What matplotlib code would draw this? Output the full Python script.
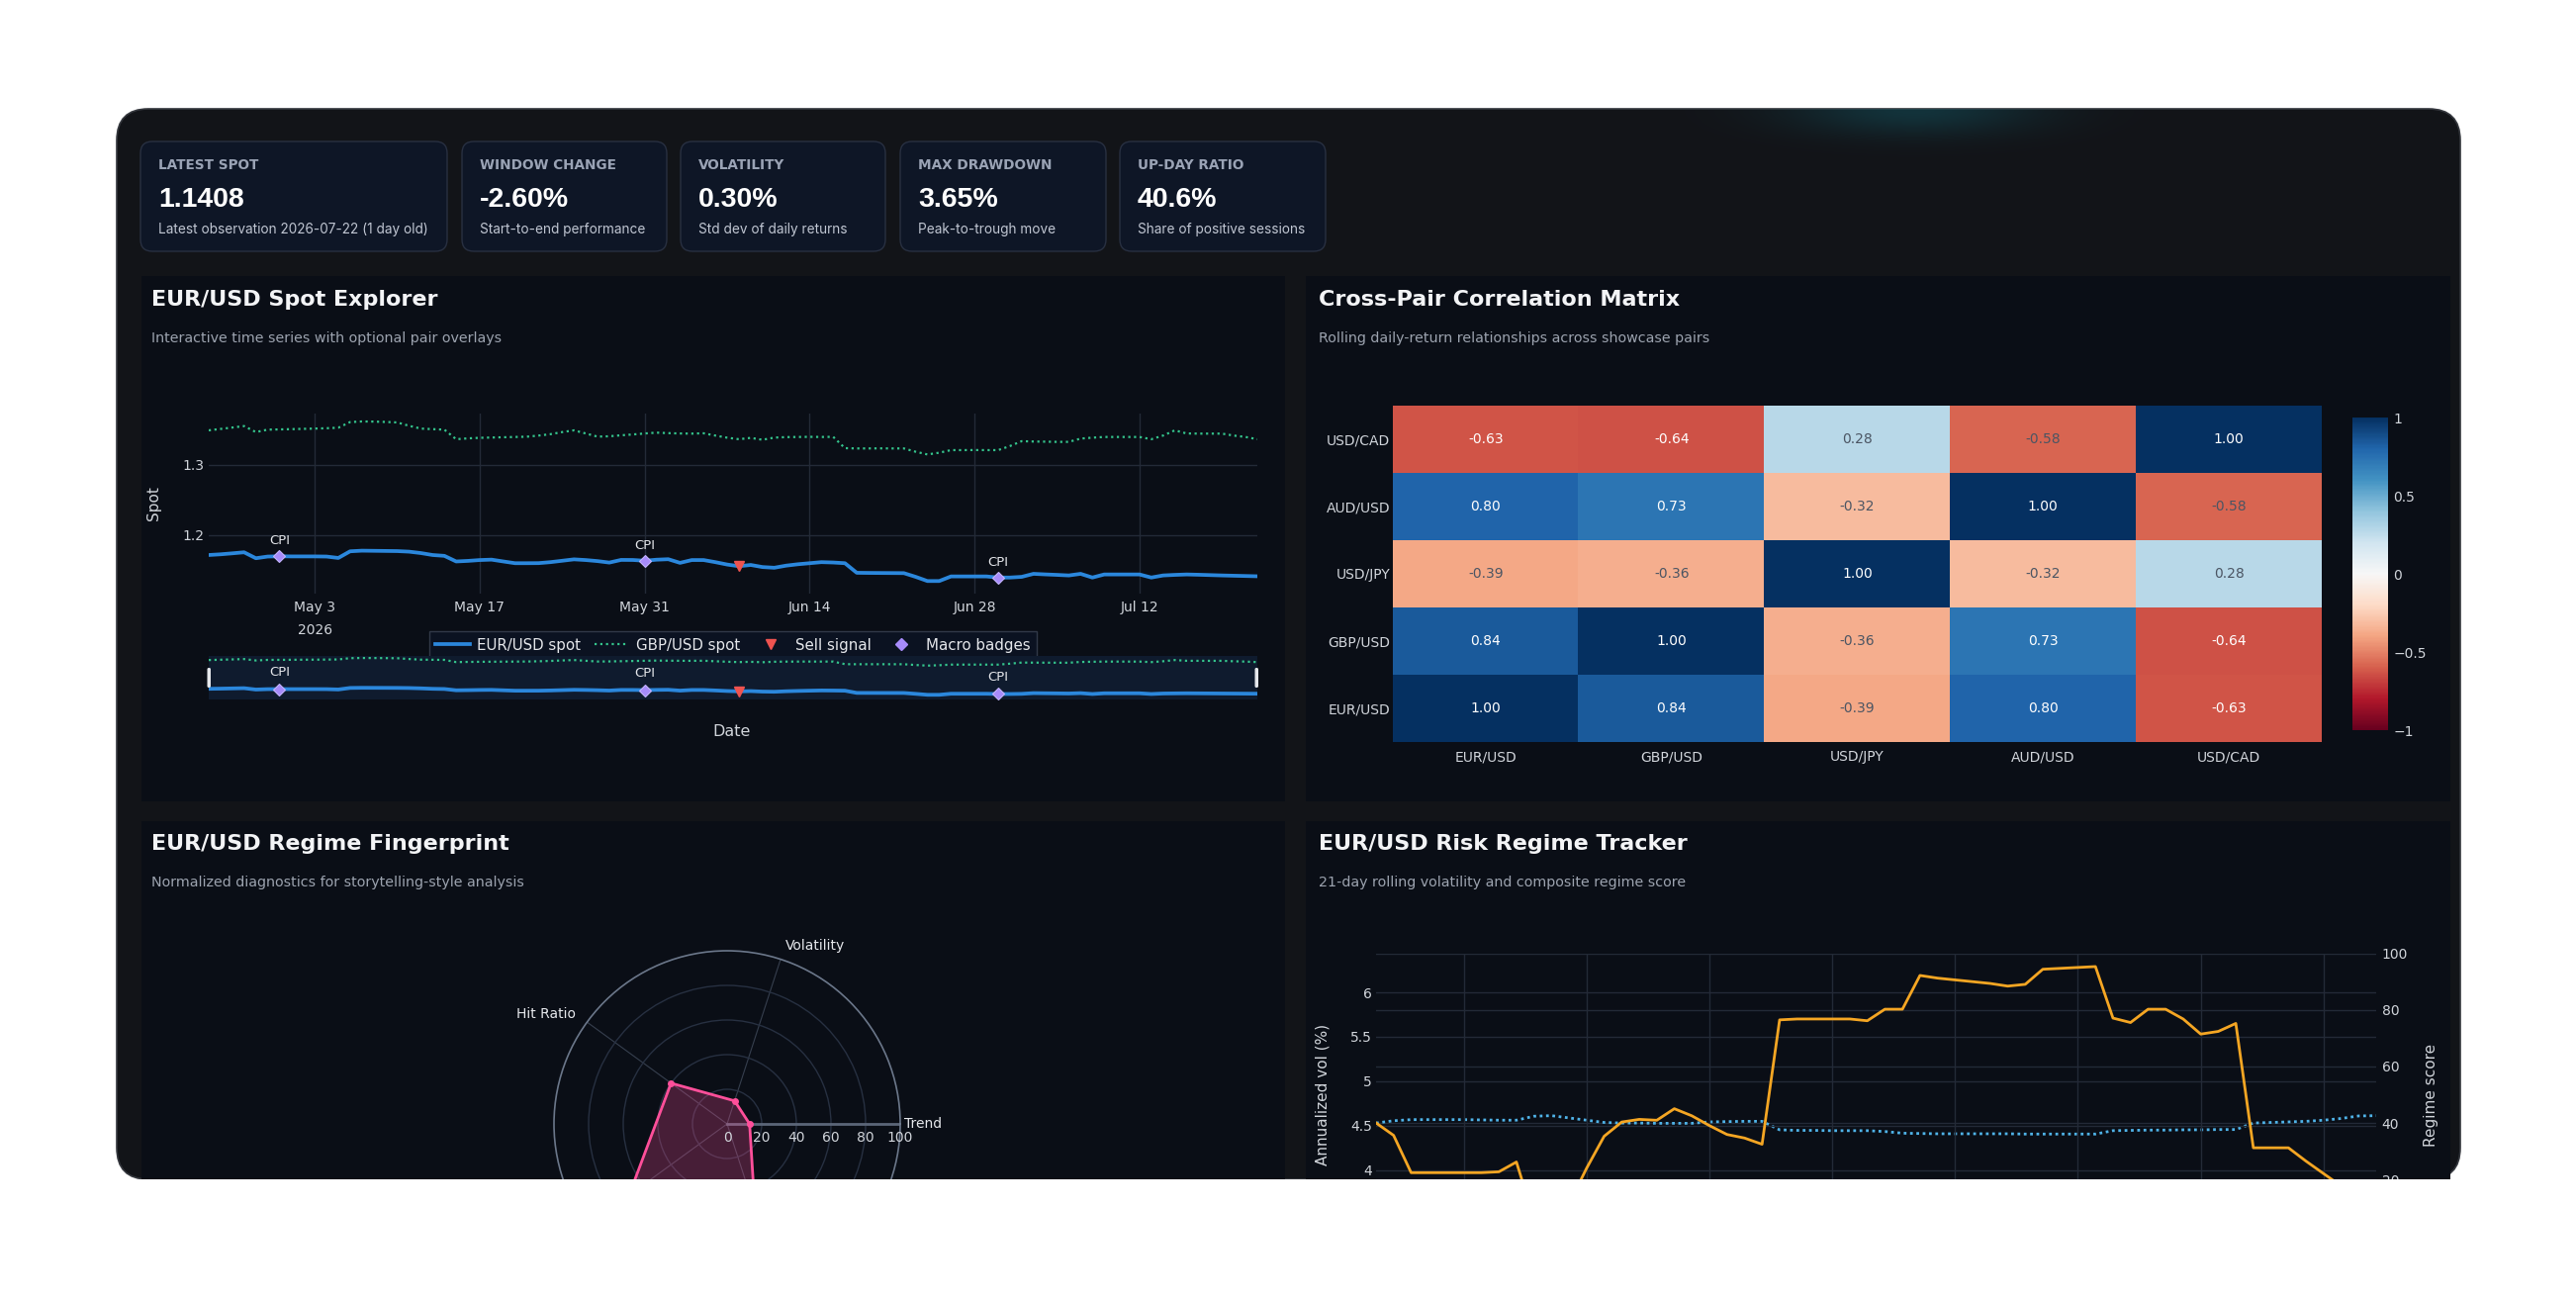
import numpy as np
import pandas as pd
import matplotlib
matplotlib.use("Agg")
import matplotlib.pyplot as plt
from matplotlib.patches import FancyBboxPatch, Rectangle
from matplotlib.lines import Line2D
from matplotlib.colors import Normalize
from matplotlib.transforms import blended_transform_factory

W, H = 2604, 1315

# ---------------- data ----------------
kpi_labels = ["LATEST SPOT", "WINDOW CHANGE", "VOLATILITY", "MAX DRAWDOWN", "UP-DAY RATIO"]
kpi_values = ["1.1408", "-2.60%", "0.30%", "3.65%", "40.6%"]
kpi_notes = ["Latest observation 2026-07-22 (1 day old)", "Start-to-end performance",
             "Std dev of daily returns", "Peak-to-trough move", "Share of positive sessions"]

spot_dates = pd.date_range("2026-04-24", "2026-07-22", freq="D")
eur_usd = [1.1712, 1.1722, 1.1736, 1.1751, 1.1666, 1.1690, 1.1694, 1.1692, 1.1692, 1.1692,
           1.1690, 1.1670, 1.1765, 1.1774, 1.1772, 1.1770, 1.1768, 1.1760, 1.1740, 1.1712,
           1.1700, 1.1620, 1.1628, 1.1640, 1.1646, 1.1620, 1.1595, 1.1595, 1.1596, 1.1610,
           1.1630, 1.1650, 1.1640, 1.1625, 1.1604, 1.1642, 1.1641, 1.1630, 1.1645, 1.1652,
           1.1600, 1.1640, 1.1640, 1.1610, 1.1576, 1.1552, 1.1570, 1.1540, 1.1530, 1.1560,
           1.1580, 1.1595, 1.1610, 1.1605, 1.1595, 1.1458, 1.1456, 1.1455, 1.1454, 1.1453,
           1.1400, 1.1340, 1.1340, 1.1406, 1.1406, 1.1406, 1.1406, 1.1390, 1.1390, 1.1400,
           1.1443, 1.1435, 1.1428, 1.1420, 1.1443, 1.1390, 1.1434, 1.1434, 1.1434, 1.1434,
           1.1390, 1.1420, 1.1428, 1.1434, 1.1430, 1.1425, 1.1420, 1.1416, 1.1412, 1.1408]
gbp_usd = [1.3495, 1.3515, 1.3535, 1.3556, 1.3470, 1.3505, 1.3508, 1.3512, 1.3516, 1.3520,
           1.3525, 1.3533, 1.3613, 1.3622, 1.3620, 1.3615, 1.3608, 1.3560, 1.3520, 1.3512,
           1.3505, 1.3368, 1.3380, 1.3388, 1.3392, 1.3396, 1.3400, 1.3404, 1.3420, 1.3440,
           1.3470, 1.3495, 1.3450, 1.3405, 1.3410, 1.3424, 1.3436, 1.3450, 1.3462, 1.3455,
           1.3450, 1.3448, 1.3453, 1.3420, 1.3390, 1.3368, 1.3387, 1.3360, 1.3391, 1.3398,
           1.3400, 1.3402, 1.3400, 1.3402, 1.3240, 1.3236, 1.3236, 1.3237, 1.3236, 1.3236,
           1.3189, 1.3150, 1.3175, 1.3212, 1.3212, 1.3213, 1.3212, 1.3212, 1.3270, 1.3340,
           1.3335, 1.3333, 1.3330, 1.3330, 1.3377, 1.3390, 1.3400, 1.3400, 1.3400, 1.3400,
           1.3368, 1.3420, 1.3495, 1.3450, 1.3448, 1.3448, 1.3448, 1.3420, 1.3400, 1.3368]
cpi_dates = pd.to_datetime(["2026-04-30", "2026-05-31", "2026-06-30"])
sell_dates = pd.to_datetime(["2026-06-08"])
spot_ticks = pd.to_datetime(["2026-05-03", "2026-05-17", "2026-05-31",
                             "2026-06-14", "2026-06-28", "2026-07-12"])
spot_tick_labels = ["May 3", "May 17", "May 31", "Jun 14", "Jun 28", "Jul 12"]

pairs = ["EUR/USD", "GBP/USD", "USD/JPY", "AUD/USD", "USD/CAD"]
corr = [[1.00, 0.84, -0.39, 0.80, -0.63],
        [0.84, 1.00, -0.36, 0.73, -0.64],
        [-0.39, -0.36, 1.00, -0.32, 0.28],
        [0.80, 0.73, -0.32, 1.00, -0.58],
        [-0.63, -0.64, 0.28, -0.58, 1.00]]

radar_axes = ["Trend", "Volatility", "Hit Ratio", "Drawdown", "Mean Reversion"]
radar_values = [13, 14, 40, 70, 52]

risk_dates = pd.date_range("2026-05-26", "2026-07-22", freq="D")
rolling_vol = [4.53, 4.39, 3.97, 3.97, 3.97, 3.97, 3.97, 3.98, 4.09, 3.45,
               3.41, 3.62, 4.02, 4.38, 4.54, 4.57, 4.56, 4.69, 4.61, 4.50,
               4.40, 4.36, 4.29, 5.69, 5.70, 5.70, 5.70, 5.70, 5.68, 5.81,
               5.81, 6.19, 6.16, 6.14, 6.12, 6.10, 6.07, 6.09, 6.26, 6.27,
               6.28, 6.29, 5.71, 5.66, 5.81, 5.81, 5.70, 5.53, 5.56, 5.65,
               4.25, 4.25, 4.25, 4.10, 3.96, 3.82, 3.70, 3.60]
regime_score = [40.0, 40.8, 41.2, 41.2, 41.2, 41.2, 41.1, 41.0, 41.0, 42.4,
                42.6, 41.8, 41.0, 40.2, 40.0, 40.0, 39.9, 39.9, 39.9, 40.4,
                40.5, 40.6, 40.6, 37.6, 37.4, 37.4, 37.3, 37.3, 37.3, 37.0,
                36.4, 36.3, 36.2, 36.2, 36.2, 36.2, 36.2, 36.1, 36.1, 36.1,
                36.1, 36.1, 37.3, 37.4, 37.5, 37.5, 37.6, 37.6, 37.7, 37.7,
                40.0, 40.2, 40.4, 40.6, 41.0, 41.6, 42.5, 42.6]
risk_grid_dates = pd.date_range("2026-05-31", "2026-07-19", freq="7D")

# ---------------- style ----------------
CONTAINER = "#121418"
PANEL = "#0a0e16"
CARD = "#0e1626"
CARD_EDGE = "#283041"
GRID = "#232a37"
TICK = "#d1d5db"
TITLE = "#f3f4f6"
SUB = "#9ca3af"
BLUE = "#2b87dc"
GREEN = "#34c48c"
RED = "#ef5350"
PURPLE = "#a78bfa"
PINK = "#ff4f9a"
ORANGE = "#f5a623"
LBLUE = "#4fb3e8"
CARD_FONT = ["Inter", "Liberation Sans", "DejaVu Sans"]
plt.rcParams["font.family"] = ["DejaVu Sans"]

MASK_Y = 1192  # bottom edge of the dark container


def rect(x0, y0, x1, y1):
    return [x0 / W, 1 - y1 / H, (x1 - x0) / W, (y1 - y0) / H]


fig = plt.figure(figsize=(W / 100, H / 100), dpi=100, facecolor="white")

# background layer in pixel coordinates
bg = fig.add_axes([0, 0, 1, 1], zorder=-5)
bg.set_xlim(0, W)
bg.set_ylim(H, 0)
bg.axis("off")

box = FancyBboxPatch((118, 110), 2369, MASK_Y - 110, boxstyle="round,pad=0,rounding_size=32",
                     fc=CONTAINER, ec="#34373d", lw=1.2)
bg.add_patch(box)

# teal glow at top edge
gx, gy = np.meshgrid(np.linspace(1650, 2250, 300), np.linspace(110, 230, 80))
glow = np.exp(-((gx - 1935) / 125) ** 2 - ((gy - 110) / 26) ** 2)
img = np.zeros(glow.shape + (4,))
img[..., 0], img[..., 1], img[..., 2] = 0.08, 0.40, 0.46
img[..., 3] = 0.38 * glow
im_glow = bg.imshow(img, extent=(1650, 2250, 230, 110), interpolation="bilinear", zorder=1)
im_glow.set_clip_path(box)

# KPI cards
card_x = [(142, 452), (467, 674), (688, 895), (910, 1118), (1132, 1340)]
for (x0, x1), lab, val, note in zip(card_x, kpi_labels, kpi_values, kpi_notes):
    bg.add_patch(FancyBboxPatch((x0, 143), x1 - x0, 111, boxstyle="round,pad=0,rounding_size=12",
                                fc=CARD, ec=CARD_EDGE, lw=1, zorder=2))
    bg.text(x0 + 18, 167, lab, fontsize=9.8, fontweight="bold", color="#9aa3b5",
            family="DejaVu Sans", va="center", zorder=3)
    bg.text(x0 + 18, 202, val, fontsize=20.5, fontweight="bold", color="white",
            family="Liberation Sans", va="center", zorder=3)
    bg.text(x0 + 18, 232, note, fontsize=9.8, color="#c0c6d2",
            family=CARD_FONT, va="center", zorder=3)

# panels
panels = [(143, 279, 1299, 810), (1320, 279, 2477, 810),
          (143, 830, 1299, 1200), (1320, 830, 2477, 1200)]
for x0, y0, x1, y1 in panels:
    bg.add_patch(Rectangle((x0, y0), x1 - x0, y1 - y0, fc=PANEL, ec="none", zorder=2))

titles = [("EUR/USD Spot Explorer", "Interactive time series with optional pair overlays", 153, 303),
          ("Cross-Pair Correlation Matrix", "Rolling daily-return relationships across showcase pairs", 1333, 303),
          ("EUR/USD Regime Fingerprint", "Normalized diagnostics for storytelling-style analysis", 153, 853),
          ("EUR/USD Risk Regime Tracker", "21-day rolling volatility and composite regime score", 1333, 853)]
for t, s, x, y in titles:
    bg.text(x, y, t, fontsize=16, fontweight="bold", color=TITLE, va="center", zorder=3)
    bg.text(x, y + 39, s, fontsize=10.3, color=SUB, va="center", zorder=3)

bg.text(740, 739, "Date", fontsize=11.5, color=TICK, ha="center", va="center", zorder=3)


def style_axes(ax):
    ax.set_facecolor("none")
    for sp in ax.spines.values():
        sp.set_visible(False)
    ax.tick_params(length=0, labelsize=10, colors=TICK)


# ---------------- spot explorer ----------------
eur_s = pd.Series(eur_usd, index=spot_dates)
ax = fig.add_axes(rect(211, 418, 1271, 600))
style_axes(ax)
ax.grid(color=GRID, lw=1)
ax.set_axisbelow(True)
ax.plot(spot_dates, gbp_usd, color=GREEN, lw=1.6, ls=(0, (1, 1.6)))
ax.plot(spot_dates, eur_usd, color=BLUE, lw=2.7)
ax.plot(cpi_dates, eur_s[cpi_dates], "D", ms=6.5, color=PURPLE, mec="#c4b5fd", mew=0.8)
ax.plot(sell_dates, eur_s[sell_dates], "v", ms=7.5, color=RED)
for d in cpi_dates:
    ax.annotate("CPI", (d, eur_s[d]), xytext=(0, 11), textcoords="offset points",
                ha="center", va="center", fontsize=9.5, color="#e5e7eb")
ax.set_xlim(spot_dates[0], spot_dates[-1])
ax.set_ylim(1.116, 1.3735)
ax.set_yticks([1.2, 1.3], ["1.2", "1.3"])
ax.set_xticks(spot_ticks, spot_tick_labels)
ax.tick_params(axis="x", pad=5)
ax.tick_params(axis="y", pad=3)
ax.text(spot_ticks[0], -0.205, "2026", transform=blended_transform_factory(ax.transData, ax.transAxes),
        ha="center", va="center", fontsize=10, color=TICK)
ax.set_ylabel("Spot", fontsize=11, color=TICK)
ax.yaxis.set_label_coords(-0.045, 0.5)

handles = [Line2D([], [], color=BLUE, lw=2.7),
           Line2D([], [], color=GREEN, lw=1.6, ls=(0, (1, 1.6))),
           Line2D([], [], ls="none", marker="v", ms=7.5, color=RED),
           Line2D([], [], ls="none", marker="D", ms=6.5, color=PURPLE)]
ax.legend(handles, ["EUR/USD spot", "GBP/USD spot", "Sell signal", "Macro badges"],
          ncol=4, loc="center", bbox_to_anchor=(741 / W, 1 - 652 / H), bbox_transform=fig.transFigure,
          frameon=True, fancybox=False, facecolor="#0c1322", edgecolor="#343c4b", framealpha=0.95,
          fontsize=10.8, labelcolor="#e5e7eb", handlelength=2.3, columnspacing=0.9,
          handletextpad=0.5, borderpad=0.45)

# range slider
rs = fig.add_axes(rect(211, 663, 1271, 707))
style_axes(rs)
rs.set_facecolor("#0f1b2e")
rs.plot(spot_dates, gbp_usd, color=GREEN, lw=1.6, ls=(0, (1, 1.6)))
rs.plot(spot_dates, eur_usd, color=BLUE, lw=2.7)
rs.plot(cpi_dates, eur_s[cpi_dates], "D", ms=6.5, color=PURPLE, mec="#c4b5fd", mew=0.8)
rs.plot(sell_dates, eur_s[sell_dates], "v", ms=7.5, color=RED)
for d in cpi_dates:
    rs.annotate("CPI", (d, eur_s[d]), xytext=(0, 12), textcoords="offset points",
                ha="center", va="center", fontsize=9.5, color="#e5e7eb")
rs.set_xlim(spot_dates[0], spot_dates[-1])
rs.set_ylim(1.105, 1.375)
rs.set_xticks([])
rs.set_yticks([])

# ---------------- correlation heatmap ----------------
axh = fig.add_axes(rect(1408, 410, 2347, 750))
style_axes(axh)
cmat = np.array(corr)
im = axh.imshow(cmat, cmap="RdBu", vmin=-1, vmax=1, origin="lower", aspect="auto")
axh.set_xticks(range(len(pairs)), pairs)
axh.set_yticks(range(len(pairs)), pairs)
axh.tick_params(axis="x", pad=6)
axh.tick_params(axis="y", pad=2)
norm = Normalize(-1, 1)
for i in range(len(pairs)):
    for j in range(len(pairs)):
        r, g, b, _ = plt.get_cmap("RdBu")(norm(cmat[i, j]))
        lum = 0.299 * r + 0.587 * g + 0.114 * b
        axh.text(j, i, f"{cmat[i, j]:.2f}", ha="center", va="center", fontsize=10,
                 color="white" if lum < 0.5 else "#4b5563")

cax = fig.add_axes(rect(2378, 422, 2414, 738))
cb = fig.colorbar(im, cax=cax, ticks=[-1, -0.5, 0, 0.5, 1])
cb.outline.set_visible(False)
cb.ax.set_yticklabels(["\u22121", "\u22120.5", "0", "0.5", "1"])
cb.ax.tick_params(length=0, labelsize=10, colors=TICK, pad=4)

# ---------------- regime fingerprint (radar) ----------------
cx, cy, rad = 735, 1136, 175
axp = fig.add_axes(rect(cx - rad, cy - rad, cx + rad, cy + rad), projection="polar")
axp.set_facecolor("none")
theta = np.deg2rad(np.arange(len(radar_axes)) * 360 / len(radar_axes))
tc = np.append(theta, theta[0])
vc = np.append(radar_values, radar_values[0])
axp.set_ylim(0, 100)
axp.set_yticks([20, 40, 60, 80], [])
axp.set_xticks(theta, [])
axp.tick_params(length=0)
axp.xaxis.grid(True, color="#363f4e", lw=0.8)
axp.yaxis.grid(True, color="#273041", lw=1)
axp.spines["polar"].set_color("#6b778a")
axp.spines["polar"].set_linewidth(1.2)
axp.plot([0, 0], [0, 100], color="#5b6678", lw=2, zorder=2)
axp.fill(tc, vc, color=PINK, alpha=0.25, zorder=3)
axp.plot(tc, vc, color=PINK, lw=2, zorder=4)
axp.plot(theta, radar_values, "o", color=PINK, ms=4, zorder=5)
for r in [0, 20, 40, 60, 80, 100]:
    axp.annotate(str(r), (0, r), xytext=(0, -10), textcoords="offset points",
                 ha="center", va="center", fontsize=10, color=TICK)
for ang, name in zip(theta, radar_axes):
    rr = 102 if abs(ang) < 1e-6 else 108
    # only categories whose label lands inside the visible panel are labelled
    if cy - np.sin(ang) * rad * rr / 100 > MASK_Y - 10:
        continue
    c = np.cos(ang)
    ha = "left" if c > 0.2 else ("right" if c < -0.2 else "center")
    axp.text(ang, rr, name, ha=ha, va="center", fontsize=10, color="#e5e7eb")

# ---------------- risk regime tracker ----------------
axv = fig.add_axes(rect(1391, 963.5, 2402, 1249.5))
style_axes(axv)
axs = axv.twinx()
style_axes(axs)
axv.set_zorder(axs.get_zorder() + 1)
axv.patch.set_visible(False)
axs.grid(axis="y", color=GRID, lw=1)
axv.grid(color=GRID, lw=1)
axs.plot(risk_dates, regime_score, color=LBLUE, lw=2, ls=(0, (1, 1.3)))
axv.plot(risk_dates, rolling_vol, color=ORANGE, lw=2)
axv.set_xlim(risk_dates[0], risk_dates[-1])
axv.set_xticks(risk_grid_dates)
axv.tick_params(axis="x", labelbottom=False)
axv.set_ylim(3.255, 6.44)
axv.set_yticks([3.5, 4, 4.5, 5, 5.5, 6], ["3.5", "4", "4.5", "5", "5.5", "6"])
axs.set_ylim(0, 100)
axs.set_yticks([0, 20, 40, 60, 80, 100], ["0", "20", "40", "60", "80", "100"])
axv.tick_params(axis="y", pad=3)
axs.tick_params(axis="y", pad=4)
axv.set_ylabel("Annualized vol (%)", fontsize=11, color=TICK)
axv.yaxis.set_label_coords(-0.046, 0.5)
axs.set_ylabel("Regime score", fontsize=11, color=TICK)
axs.yaxis.set_label_coords(1.047, 0.5)

# ---------------- top overlay ----------------
top = fig.add_axes([0, 0, 1, 1], zorder=30)
top.set_xlim(0, W)
top.set_ylim(H, 0)
top.axis("off")
top.patch.set_alpha(0)
for hx in (209.5, 1268.5):
    top.add_patch(FancyBboxPatch((hx, 675), 3.5, 20, boxstyle="round,pad=0,rounding_size=1.5",
                                 fc="#e5e7eb", ec="none"))
top.add_patch(Rectangle((0, MASK_Y), W, H - MASK_Y, fc="white", ec="none"))

fig.savefig("out.png", dpi=100, facecolor="white")
